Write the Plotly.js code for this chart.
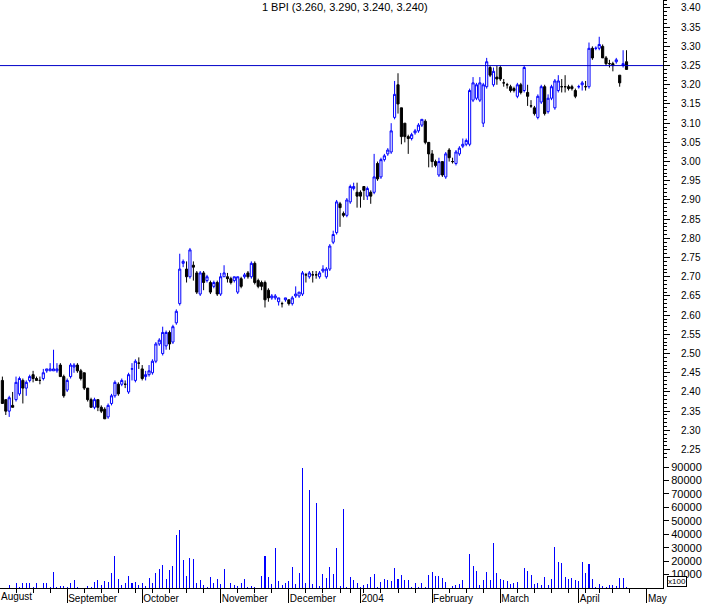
<!DOCTYPE html>
<html>
<head>
<meta charset="utf-8">
<script src="https://cdn.plot.ly/plotly-3.0.1.min.js"></script>
<style>html,body{margin:0;padding:0;background:#fff;}#chart{width:705px;height:604px;}</style>
</head>
<body>
<div id="chart"></div>
<script>
// ---- data ----
const titleText = '1 BPI (3.260, 3.290, 3.240, 3.240)';
const firstTradingDay = '2003-08-05';
const holidays = ['2003-12-25','2003-12-26','2004-01-01','2004-04-09','2004-04-12'];

const openP = [2.43,2.38,2.35,2.365,2.38,2.395,2.43,2.41,2.43,2.445,2.435,2.43,2.435,2.455,2.455,2.455,2.455,2.47,2.44,
2.405,2.44,2.465,2.47,2.455,2.45,2.41,2.38,2.36,2.38,2.36,2.355,2.335,2.37,2.39,2.42,2.42,2.42,2.40,2.46,2.43,2.475,
2.46,2.44,2.445,2.45,2.48,2.525,2.50,2.52,2.555,2.53,2.58,2.63,2.735,2.72,2.70,2.73,2.71,2.655,2.71,2.69,2.685,2.675,2.685,
2.655,2.70,2.70,2.695,2.69,2.66,2.695,2.70,2.71,2.70,2.735,2.69,2.685,2.685,2.665,2.645,2.645,2.635,2.63,2.64,
2.64,2.63,2.65,2.65,2.655,2.705,2.70,2.705,2.705,2.70,2.715,2.70,2.72,2.79,2.815,2.89,2.865,2.86,2.895,2.93,2.92,
2.92,2.935,2.91,2.92,2.92,2.995,2.96,3.005,3.02,3.025,3.115,3.20,3.14,3.10,3.065,3.06,3.075,3.08,3.095,3.105,3.05,
3.02,3.00,2.965,3.00,2.96,3.03,3.00,2.995,3.02,3.04,3.045,3.045,3.16,3.165,3.16,3.10,3.195,
3.245,3.20,3.22,3.245,3.205,3.20,3.195,3.19,3.17,3.20,3.185,3.18,3.145,3.14,3.115,3.155,3.195,3.13,3.165,3.14,3.185,3.195,3.195,3.195,3.195,3.185,
3.195,3.20,3.195,3.195,3.295,3.295,3.295,3.30,3.27,3.255,3.255,3.26,3.225,3.25,3.26];

const highP = [2.44,2.38,2.39,2.40,2.44,2.44,2.435,2.43,2.445,2.455,2.44,2.44,2.46,2.46,2.475,2.51,2.475,2.475,2.445,
2.435,2.475,2.475,2.475,2.46,2.45,2.41,2.385,2.385,2.38,2.365,2.36,2.37,2.395,2.43,2.425,2.435,2.43,2.45,2.475,2.485,2.49,
2.47,2.455,2.47,2.485,2.53,2.54,2.57,2.56,2.56,2.575,2.615,2.76,2.745,2.74,2.775,2.74,2.715,2.715,2.715,2.705,2.69,2.69,2.69,
2.71,2.73,2.71,2.70,2.70,2.70,2.70,2.71,2.715,2.74,2.74,2.695,2.69,2.69,2.67,2.655,2.655,2.645,2.635,2.645,
2.64,2.65,2.675,2.66,2.715,2.71,2.715,2.715,2.715,2.715,2.73,2.725,2.785,2.82,2.90,2.895,2.87,2.905,2.94,2.945,2.945,
2.925,2.935,2.935,2.925,3.02,3.00,3.01,3.02,3.035,3.10,3.21,3.23,3.14,3.10,3.07,3.075,3.085,3.10,3.11,3.11,3.05,
3.03,3.005,3.01,3.00,3.025,3.035,3.01,3.03,3.04,3.06,3.06,3.19,3.22,3.205,3.22,3.205,3.27,
3.25,3.245,3.25,3.25,3.215,3.205,3.20,3.195,3.205,3.205,3.25,3.20,3.16,3.145,3.175,3.20,3.20,3.175,3.20,3.215,3.225,3.215,3.225,3.20,3.20,3.19,
3.20,3.21,3.21,3.31,3.30,3.30,3.325,3.305,3.275,3.265,3.26,3.27,3.225,3.29,3.29];

const lowP = [2.37,2.34,2.335,2.36,2.375,2.39,2.37,2.39,2.425,2.425,2.43,2.42,2.43,2.45,2.455,2.455,2.45,2.44,2.385,
2.40,2.435,2.45,2.45,2.43,2.405,2.375,2.36,2.355,2.35,2.345,2.33,2.33,2.365,2.385,2.39,2.415,2.41,2.395,2.43,2.425,2.46,
2.43,2.43,2.44,2.445,2.475,2.52,2.495,2.51,2.51,2.525,2.575,2.625,2.725,2.685,2.695,2.69,2.655,2.65,2.665,2.685,2.655,2.67,2.65,
2.65,2.70,2.685,2.68,2.685,2.655,2.67,2.695,2.695,2.695,2.68,2.67,2.665,2.62,2.635,2.64,2.64,2.625,2.62,2.635,
2.625,2.625,2.645,2.645,2.65,2.685,2.695,2.685,2.695,2.695,2.71,2.695,2.715,2.785,2.81,2.83,2.855,2.855,2.89,2.925,2.88,
2.88,2.90,2.90,2.89,2.915,2.95,2.955,3.00,3.015,3.02,3.11,3.125,3.045,3.05,3.02,3.055,3.07,3.075,3.09,3.045,2.985,
2.985,2.985,2.96,2.96,2.955,3.00,2.995,2.99,3.015,3.035,3.04,3.04,3.155,3.16,3.155,3.09,3.19,
3.22,3.195,3.20,3.21,3.195,3.19,3.18,3.18,3.165,3.175,3.18,3.145,3.14,3.12,3.11,3.15,3.12,3.125,3.16,3.135,3.18,3.18,3.18,3.185,3.185,3.165,
3.19,3.185,3.185,3.19,3.265,3.29,3.29,3.27,3.25,3.245,3.235,3.255,3.195,3.245,3.24];

const closeP = [2.37,2.35,2.385,2.36,2.425,2.435,2.41,2.425,2.44,2.435,2.43,2.43,2.45,2.46,2.46,2.46,2.46,2.44,2.39,
2.43,2.47,2.47,2.455,2.435,2.41,2.38,2.36,2.38,2.36,2.35,2.33,2.365,2.39,2.425,2.395,2.43,2.42,2.445,2.46,2.48,2.475,
2.435,2.445,2.455,2.48,2.525,2.535,2.555,2.555,2.525,2.57,2.61,2.72,2.74,2.70,2.77,2.725,2.66,2.71,2.685,2.70,2.66,2.685,2.655,
2.70,2.71,2.695,2.685,2.70,2.70,2.675,2.705,2.70,2.735,2.685,2.675,2.675,2.64,2.645,2.65,2.65,2.645,2.63,2.645,
2.63,2.645,2.655,2.66,2.71,2.705,2.71,2.705,2.705,2.71,2.72,2.72,2.78,2.81,2.895,2.88,2.86,2.90,2.935,2.935,2.91,
2.91,2.925,2.93,2.91,2.96,2.955,3.005,3.015,3.03,3.08,3.175,3.15,3.065,3.065,3.06,3.07,3.08,3.095,3.11,3.05,3.02,
3.00,2.99,3.00,2.965,3.02,3.01,3.00,3.025,3.035,3.045,3.055,3.185,3.205,3.20,3.205,3.20,3.26,
3.225,3.235,3.215,3.215,3.205,3.20,3.185,3.185,3.20,3.18,3.245,3.17,3.145,3.125,3.17,3.195,3.125,3.165,3.195,3.21,3.21,3.195,3.195,3.19,3.19,3.17,
3.195,3.205,3.195,3.295,3.27,3.295,3.305,3.27,3.255,3.255,3.25,3.265,3.205,3.255,3.24];

const volume = [300,300,2200,300,3700,700,3700,3700,3700,700,3700,300,3700,3700,700,11900,700,1500,1500,
700,3700,6000,700,300,300,1500,700,4500,6000,2200,5200,4500,11200,23800,6700,2200,3700,8900,3700,4500,2200,
3700,1500,7400,3700,11200,14100,17100,6700,13400,16400,39400,43200,20800,8900,22300,21600,3700,6000,2200,700,8200,3700,6700,
3000,14100,300,3700,2200,1500,3700,6700,700,1500,700,300,8900,23800,8200,3000,29800,5200,2200,3700,
5200,15600,3000,11200,89300,3700,72900,3000,63200,1500,10400,7400,15600,10400,29800,1500,58800,700,8200,6000,3700,
700,2200,3000,8200,10400,700,4500,6700,6000,5200,14900,6700,9700,6000,6000,700,3700,700,3700,700,9700,
11900,8900,8900,7400,4500,300,1500,2200,3000,6000,300,25300,16400,12700,2200,6000,11900,
6000,33500,11200,6700,6000,5200,3000,3700,4500,300,14900,12700,9700,3000,3700,2200,8200,2200,6700,30500,19300,18600,8200,6700,7400,6000,
5200,19300,11200,17900,6700,700,3000,1500,700,2200,2200,1500,7400,7400,700];

// month ticks: the first (August) starts before the visible range, so its label is placed at the left edge
const monthTickDates = ['2003-09-01','2003-10-01','2003-11-03','2003-12-01','2004-01-02','2004-02-02','2004-03-01','2004-04-01','2004-05-03'];
const monthTickLabels = ['September','October','November','December','2004','February','March','April','May'];
const firstMonthLabel = 'August';
const referenceLevel = 3.25;
const volumeTicks = [10000,20000,30000,40000,50000,60000,70000,80000,90000];
const volumeUnitText = 'x100';

// ---- trading calendar (weekends and exchange holidays skipped) ----
function tradingDays(start, n) {
  const out = [];
  const d = new Date(start + 'T00:00:00Z');
  while (out.length < n) {
    const dow = d.getUTCDay();
    const s = d.toISOString().slice(0, 10);
    if (dow !== 0 && dow !== 6 && holidays.indexOf(s) < 0) out.push(s);
    d.setUTCDate(d.getUTCDate() + 1);
  }
  return out;
}
const dates = tradingDays(firstTradingDay, closeP.length);
const DAY = 86400000;
const font = 'Arial, "Liberation Sans", sans-serif';

const candles = {
  type: 'candlestick',
  x: dates, open: openP, high: highP, low: lowP, close: closeP,
  xaxis: 'x', yaxis: 'y',
  increasing: {line: {color: '#0000ff', width: 1}, fillcolor: '#ffffff'},
  decreasing: {line: {color: '#000000', width: 1}, fillcolor: '#000000'},
  whiskerwidth: 0,
  hoverinfo: 'skip',
  showlegend: false
};
const vols = {
  type: 'bar',
  x: dates, y: volume,
  xaxis: 'x', yaxis: 'y2',
  width: 0.3 * DAY,
  marker: {color: '#0000ff', line: {width: 0}},
  hoverinfo: 'skip',
  showlegend: false
};

const layout = {
  width: 705, height: 604,
  margin: {l: 0, r: 42, t: 0, b: 16, pad: 0},
  paper_bgcolor: '#ffffff', plot_bgcolor: '#ffffff',
  font: {family: font, size: 10, color: '#000000'},
  showlegend: false,
  hovermode: false,
  boxgap: 0.1,
  bargap: 0,
  title: {
    text: titleText,
    font: {family: font, size: 11, color: '#000000'},
    x: 0.489, xref: 'container', xanchor: 'center',
    y: 1, yref: 'container', yanchor: 'top', pad: {t: 3}
  },
  xaxis: {
    type: 'date',
    anchor: 'y2',
    range: ['2003-08-04 07:12', '2004-05-07 16:48'],
    rangebreaks: [{bounds: ['sat', 'mon']}, {values: holidays}],
    rangeslider: {visible: false},
    tickmode: 'array',
    tickvals: monthTickDates,
    ticktext: monthTickLabels,
    ticks: 'outside', ticklen: 14, tickwidth: 1, tickcolor: '#000000',
    ticklabelposition: 'outside right',
    ticklabelstandoff: 1,
    tickfont: {family: font, size: 10, color: '#000000'},
    minor: {tickmode: 'linear', tick0: '2003-08-04', dtick: 7 * DAY, ticks: 'outside', ticklen: 4, tickcolor: '#000000', showgrid: false},
    showline: true, linecolor: '#000000', linewidth: 1,
    showgrid: false, zeroline: false, fixedrange: true
  },
  yaxis: {
    domain: [0.2211, 1],
    range: [2.228, 3.4208],
    side: 'right', anchor: 'x',
    tick0: 2.25, dtick: 0.05, tickformat: '.2f',
    ticks: 'outside', ticklen: 6, tickwidth: 1, tickcolor: '#000000',
    minor: {dtick: 0.01, ticks: 'outside', ticklen: 3, tickcolor: '#000000', showgrid: false},
    ticklabelstandoff: 9,
    tickfont: {family: font, size: 10, color: '#000000'},
    showline: true, linecolor: '#000000', linewidth: 1,
    showgrid: false, zeroline: false, fixedrange: true
  },
  yaxis2: {
    domain: [0, 0.2211],
    range: [0, 96700],
    side: 'right', anchor: 'x',
    tickmode: 'array', tickvals: volumeTicks, tickformat: 'd',
    ticks: 'outside', ticklen: 5, tickwidth: 1, tickcolor: '#000000',
    ticklabelstandoff: 0,
    tickfont: {family: font, size: 11, color: '#000000'},
    showline: true, linecolor: '#000000', linewidth: 1,
    showgrid: false, zeroline: false, fixedrange: true
  },
  shapes: [{
    type: 'line', xref: 'paper', x0: 0, x1: 1, yref: 'y', y0: referenceLevel, y1: referenceLevel,
    line: {color: '#0000c8', width: 1}
  }],
  annotations: [{
    text: volumeUnitText, xref: 'paper', x: 1, xanchor: 'left', xshift: 4,
    yref: 'paper', y: 0, yanchor: 'bottom', yshift: 1,
    showarrow: false, font: {family: font, size: 8, color: '#000000'},
    bgcolor: '#ffffff', bordercolor: '#000000', borderwidth: 1, borderpad: 0
  }, {
    text: firstMonthLabel, xref: 'paper', x: 0, xanchor: 'left', xshift: -1,
    yref: 'paper', y: 0, yanchor: 'top', yshift: -1,
    showarrow: false, font: {family: font, size: 10, color: '#000000'}
  }]
};

Plotly.newPlot('chart', [vols, candles], layout, {staticPlot: true, displayModeBar: false});
</script>
</body>
</html>
